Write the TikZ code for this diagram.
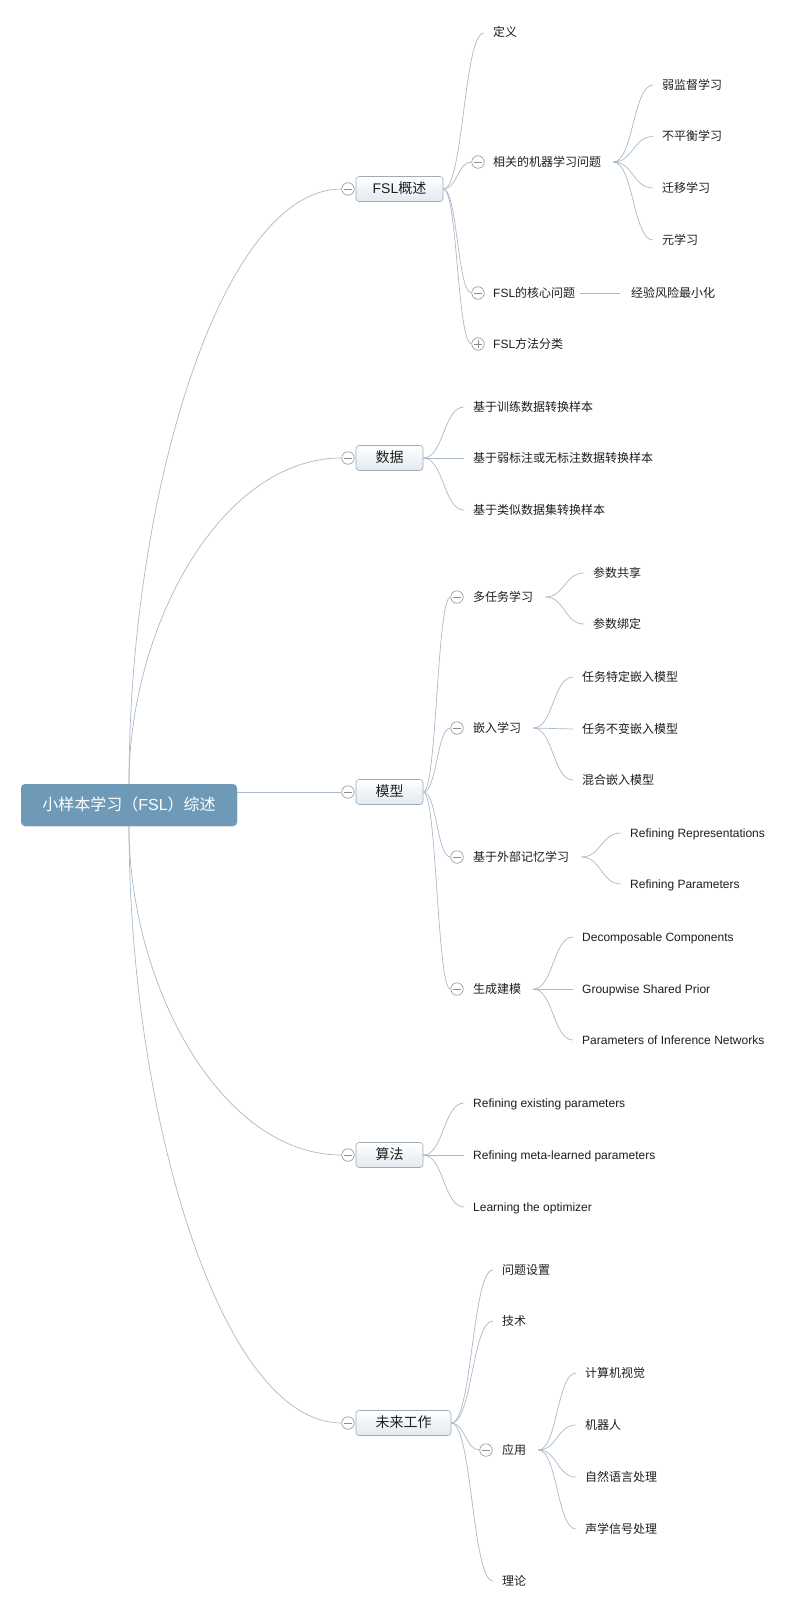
\documentclass[tikz,border=0pt]{standalone}
\usepackage{fontspec}
\setmainfont{Noto Sans CJK SC}
\newfontfamily\lat{Liberation Sans}
\usetikzlibrary{calc,shadows}
\definecolor{edgec}{HTML}{A9B9C9}
\definecolor{rootc}{HTML}{6E9AB7}
\definecolor{boxb}{HTML}{A0ABB6}
\definecolor{boxf}{HTML}{E2E9EF}
\definecolor{circc}{HTML}{8C8C8C}
\definecolor{txt}{HTML}{1E1E1E}
\begin{document}
\begin{tikzpicture}[x=1pt,y=-1pt,
 edge/.style={draw=edgec,line width=0.7pt},
 scurve/.style={to path={let \p1=(\tikztostart),\p2=(\tikztotarget) in .. controls ({0.5*\x1+0.5*\x2},\y1) and ({0.5*\x1+0.5*\x2},\y2) .. (\tikztotarget)}},
 rcurve/.style={to path={let \p1=(\tikztostart),\p2=(\tikztotarget) in .. controls (\x1,{0.52*\y1+0.48*\y2}) and ({0.57*\x1+0.43*\x2},\y2) .. (\tikztotarget)}},
 leaf/.style={anchor=west, inner sep=0pt, font=\fontsize{12}{14}\selectfont, text=txt, text height=10pt, text depth=2pt},
 lone/.style={draw=boxb, line width=0.6pt, rounded corners=3pt, top color=white, bottom color=boxf, minimum height=25pt, inner sep=0pt, font=\fontsize{14}{16}\selectfont, text=txt, text height=11.5pt, text depth=2.5pt},
 rootbox/.style={fill=rootc, rounded corners=4pt, minimum width=216pt, minimum height=42pt, inner sep=0pt, font=\fontsize{16}{18}\selectfont, text=white, text height=13pt, text depth=3pt, drop shadow={opacity=0.18, shadow xshift=0.6pt, shadow yshift=-1pt}},
 cmin/.style={circle, draw=circc, fill=white, line width=0.6pt, minimum size=12.5pt, inner sep=0pt, path picture={\draw[circc,line width=0.6pt] ([xshift=-3.6pt]path picture bounding box.center) -- ([xshift=3.6pt]path picture bounding box.center);}},
 cplus/.style={cmin, path picture={\draw[circc,line width=0.6pt] ([xshift=-3.6pt]path picture bounding box.center) -- ([xshift=3.6pt]path picture bounding box.center) ([yshift=-3.6pt]path picture bounding box.center) -- ([yshift=3.6pt]path picture bounding box.center);}}
]
\fill[white] (0,0) rectangle (808,1611);
\useasboundingbox (0,0) rectangle (808,1611);

% root and level 1
\node[rootbox] (root) at (129,805) {小样本学习（{\lat FSL}）综述};
\node[lone, minimum width=87pt] (fsl) at (399.5,189) {{\lat FSL}概述};
\node[lone, minimum width=67pt] (data) at (389.5,458) {数据};
\node[lone, minimum width=67pt] (model) at (389.5,792) {模型};
\node[lone, minimum width=67pt] (alg) at (389.5,1155) {算法};
\node[lone, minimum width=95pt] (fut) at (403.5,1423) {未来工作};
\node[cmin] (cfsl) at (348,189) {};
\node[cmin] (cdata) at (348,458) {};
\node[cmin] (cmodel) at (348,792) {};
\node[cmin] (calg) at (348,1155) {};
\node[cmin] (cfut) at (348,1423) {};

% FSL overview
\node[leaf] (a1) at (493,33) {定义};
\node[cmin] (ca2) at (478,162) {};
\node[leaf] (a2) at (493,162) {相关的机器学习问题};
\node[leaf] (a21) at (662,85) {弱监督学习};
\node[leaf] (a22) at (662,136.5) {不平衡学习};
\node[leaf] (a23) at (662,188) {迁移学习};
\node[leaf] (a24) at (662,240) {元学习};
\node[cmin] (ca3) at (478,293) {};
\node[leaf] (a3) at (493,293) {{\lat FSL}的核心问题};
\node[leaf] (a31) at (631,293) {经验风险最小化};
\node[cplus] (ca4) at (478,344) {};
\node[leaf] (a4) at (493,344) {{\lat FSL}方法分类};

% data
\node[leaf] (b1) at (473,407) {基于训练数据转换样本};
\node[leaf] (b2) at (473,458) {基于弱标注或无标注数据转换样本};
\node[leaf] (b3) at (473,510) {基于类似数据集转换样本};

% model
\node[cmin] (cc1) at (457,597) {};
\node[leaf] (c1) at (473,597) {多任务学习};
\node[leaf] (c11) at (593,573) {参数共享};
\node[leaf] (c12) at (593,624) {参数绑定};
\node[cmin] (cc2) at (457,728) {};
\node[leaf] (c2) at (473,728) {嵌入学习};
\node[leaf] (c21) at (582,677) {任务特定嵌入模型};
\node[leaf] (c22) at (582,729) {任务不变嵌入模型};
\node[leaf] (c23) at (582,780) {混合嵌入模型};
\node[cmin] (cc3) at (457,857) {};
\node[leaf] (c3) at (473,857) {基于外部记忆学习};
\node[leaf] (c31) at (630,833) {\lat Refining Representations};
\node[leaf] (c32) at (630,884) {\lat Refining Parameters};
\node[cmin] (cc4) at (457,989) {};
\node[leaf] (c4) at (473,989) {生成建模};
\node[leaf] (c41) at (582,937) {\lat Decomposable Components};
\node[leaf] (c42) at (582,989) {\lat Groupwise Shared Prior};
\node[leaf] (c43) at (582,1040) {\lat Parameters of Inference Networks};

% algorithm
\node[leaf] (d1) at (473,1103) {\lat Refining existing parameters};
\node[leaf] (d2) at (473,1155) {\lat Refining meta-learned parameters};
\node[leaf] (d3) at (473,1207) {\lat Learning the optimizer};

% future work
\node[leaf] (e1) at (502,1270) {问题设置};
\node[leaf] (e2) at (502,1321) {技术};
\node[cmin] (ce3) at (486,1450) {};
\node[leaf] (e3) at (502,1450) {应用};
\node[leaf] (e31) at (585,1373) {计算机视觉};
\node[leaf] (e32) at (585,1425) {机器人};
\node[leaf] (e33) at (585,1477) {自然语言处理};
\node[leaf] (e34) at (585,1529) {声学信号处理};
\node[leaf] (e4) at (502,1581) {理论};

% root edges
\draw[edge] (root.north) to[rcurve] (cfsl.west);
\draw[edge] (root.north) to[rcurve] (cdata.west);
\draw[edge] (root.east |- cmodel.west) -- (cmodel.west);
\draw[edge] (root.south) to[rcurve] (calg.west);
\draw[edge] (root.south) to[rcurve] (cfut.west);

% FSL edges
\draw[edge] (fsl.east) to[scurve] ([xshift=-9pt]a1.west);
\foreach \c in {ca2,ca3,ca4} \draw[edge] (fsl.east) to[scurve] (\c.west);
\foreach \t in {a21,a22,a23,a24} \draw[edge] ([xshift=12pt]a2.east) to[scurve] ([xshift=-9pt]\t.west);
\draw[edge] ([xshift=5pt]a3.east) -- ([xshift=-11pt]a31.west);

% data edges
\foreach \t in {b1,b2,b3} \draw[edge] (data.east) to[scurve] ([xshift=-9pt]\t.west);

% model edges
\foreach \c in {cc1,cc2,cc3,cc4} \draw[edge] (model.east) to[scurve] (\c.west);
\foreach \t in {c11,c12} \draw[edge] ([xshift=12pt]c1.east) to[scurve] ([xshift=-9pt]\t.west);
\foreach \t in {c21,c22,c23} \draw[edge] ([xshift=12pt]c2.east) to[scurve] ([xshift=-9pt]\t.west);
\foreach \t in {c31,c32} \draw[edge] ([xshift=12pt]c3.east) to[scurve] ([xshift=-9pt]\t.west);
\foreach \t in {c41,c42,c43} \draw[edge] ([xshift=12pt]c4.east) to[scurve] ([xshift=-9pt]\t.west);

% algorithm edges
\foreach \t in {d1,d2,d3} \draw[edge] (alg.east) to[scurve] ([xshift=-9pt]\t.west);

% future edges
\foreach \t in {e1,e2,e4} \draw[edge] (fut.east) to[scurve] ([xshift=-9pt]\t.west);
\draw[edge] (fut.east) to[scurve] (ce3.west);
\foreach \t in {e31,e32,e33,e34} \draw[edge] ([xshift=12pt]e3.east) to[scurve] ([xshift=-9pt]\t.west);
\end{tikzpicture}
\end{document}
